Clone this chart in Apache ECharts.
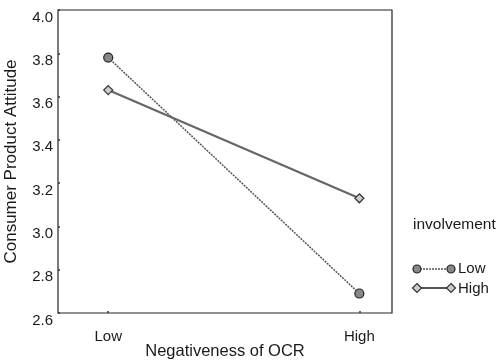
<!DOCTYPE html>
<html><head><meta charset="utf-8">
<script src="https://cdn.jsdelivr.net/npm/echarts@6/dist/echarts.min.js"></script>
<style>html,body{margin:0;padding:0;background:#fff}#c{width:499px;height:361px}</style>
</head><body><div id="c"></div>
<script>
var categories = ['Low', 'High'];
var yTicks = [2.6, 2.8, 3.0, 3.2, 3.4, 3.6, 3.8, 4.0];
var lowInvolvement = [3.78, 2.69];
var highInvolvement = [3.63, 3.13];
var seriesNames = ['Low', 'High'];
var legendTitle = 'involvement';

var font = 'Liberation Sans, Arial, sans-serif';
var txt = '#1a1a1a';
var chart = echarts.init(document.getElementById('c'));

function diamond(cx, cy, r) {
  return [[cx, cy - r], [cx + r, cy], [cx, cy + r], [cx - r, cy]];
}
var lowRowY = 269, highRowY = 288, lx0 = 417, lx1 = 451;
var legendGraphics = [
  {type: 'text', left: 413, top: 217, style: {text: legendTitle, font: '15.5px ' + font, fill: txt}},
  {type: 'line', shape: {x1: lx0, y1: lowRowY, x2: lx1, y2: lowRowY}, style: {stroke: '#555', lineWidth: 1.5, lineDash: [2, 1]}},
  {type: 'circle', shape: {cx: lx0, cy: lowRowY, r: 4}, style: {fill: '#888', stroke: '#222', lineWidth: 1.2}},
  {type: 'circle', shape: {cx: lx1, cy: lowRowY, r: 4}, style: {fill: '#888', stroke: '#222', lineWidth: 1.2}},
  {type: 'text', x: 458, y: lowRowY, style: {text: seriesNames[0], font: '15px ' + font, fill: txt, verticalAlign: 'middle'}},
  {type: 'line', shape: {x1: lx0, y1: highRowY, x2: lx1, y2: highRowY}, style: {stroke: '#555', lineWidth: 2}},
  {type: 'polygon', shape: {points: diamond(lx0, highRowY, 4.5)}, style: {fill: '#ccc', stroke: '#333', lineWidth: 1.2}},
  {type: 'polygon', shape: {points: diamond(lx1, highRowY, 4.5)}, style: {fill: '#ccc', stroke: '#333', lineWidth: 1.2}},
  {type: 'text', x: 458, y: highRowY + 1, style: {text: seriesNames[1], font: '15px ' + font, fill: txt, verticalAlign: 'middle'}}
];

chart.setOption({
  animation: false,
  backgroundColor: '#fff',
  grid: {left: 58, right: 107, top: 10, bottom: 48, show: true, borderColor: '#222', borderWidth: 1.2,
         outerBoundsMode: 'none', containLabel: false},
  xAxis: {
    type: 'value', min: 0.8, max: 2.13, interval: 1,
    name: 'Negativeness of OCR', nameLocation: 'middle', nameGap: 30, nameMoveOverlap: false,
    nameTextStyle: {fontFamily: font, fontSize: 16.5, color: txt},
    axisLine: {show: false}, splitLine: {show: false},
    axisTick: {show: true, inside: true, length: 2, customValues: [1, 2], lineStyle: {color: '#333', width: 1.5}},
    axisLabel: {fontFamily: font, fontSize: 15, color: txt, margin: 16,
      customValues: [1, 2],
      formatter: function (v) { return categories[Math.round(v) - 1] || ''; }}
  },
  yAxis: {
    type: 'value', min: 2.6, max: 4.0, interval: 0.2,
    name: 'Consumer Product Attitude', nameLocation: 'middle', nameGap: 38, nameMoveOverlap: false,
    nameTextStyle: {fontFamily: font, fontSize: 17, color: txt},
    axisLine: {show: false}, splitLine: {show: false},
    axisTick: {show: true, inside: true, length: 2, lineStyle: {color: '#333', width: 1.5}},
    axisLabel: {fontFamily: font, fontSize: 15, color: txt, margin: 5, verticalAlign: 'top',
      formatter: function (v) { return v.toFixed(1); }}
  },
  graphic: legendGraphics,
  series: [
    {name: seriesNames[0], type: 'line', symbol: 'circle', symbolSize: 9,
     data: [[1, lowInvolvement[0]], [2, lowInvolvement[1]]],
     lineStyle: {color: '#555', width: 1.5, type: [2, 1]},
     itemStyle: {color: '#888', borderColor: '#222', borderWidth: 1.2}},
    {name: seriesNames[1], type: 'line', symbol: 'diamond', symbolSize: 9,
     data: [[1, highInvolvement[0]], [2, highInvolvement[1]]],
     lineStyle: {color: '#666', width: 2.2},
     itemStyle: {color: '#ccc', borderColor: '#333', borderWidth: 1.2}}
  ]
});
</script></body></html>
